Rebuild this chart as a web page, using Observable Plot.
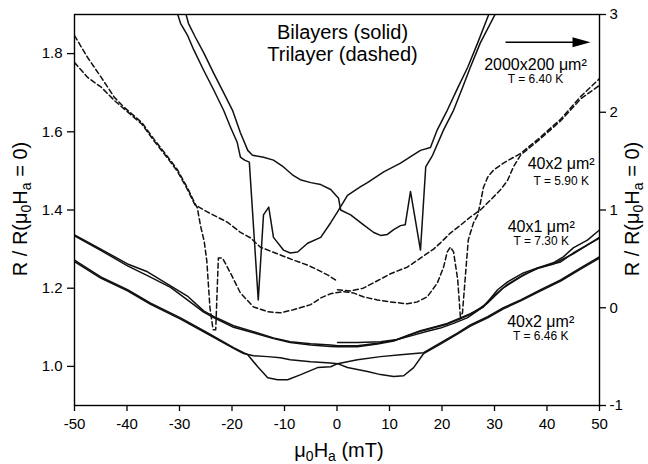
<!DOCTYPE html>
<html><head><meta charset="utf-8">
<script src="https://cdn.jsdelivr.net/npm/d3@7"></script>
<script src="https://cdn.jsdelivr.net/npm/@observablehq/plot@0.6"></script>
<style>body{margin:0;background:#fff}svg{display:block}</style>
</head><body><div id="chart"></div>
<script>
// ---------- axes ----------
const xTicks = [-50, -40, -30, -20, -10, 0, 10, 20, 30, 40, 50];
const leftTicks = [1.0, 1.2, 1.4, 1.6, 1.8];
const rightTicks = [-1, 0, 1, 2, 3];
const leftDomain = [0.9, 1.9];
const rightDomain = [-1, 3];

// ---------- 2000x200 µm² bilayer, T = 6.40 K (right axis) ----------
const big_sweepA = [[-30.6,3.07],[-30.4,3.01],[-29.8,2.91],[-28.5,2.79],[-27.3,2.64],[-25.4,2.43],[-23.5,2.23],[-21.6,2.02],[-20.3,1.85],[-19.0,1.69],[-18.4,1.54],[-17.6,1.51],[-16.7,1.49],[-15.0,0.08],[-14.0,0.95],[-13.0,1.03],[-12.1,0.72],[-10.2,0.59],[-8.9,0.56],[-7.5,0.57],[-5.6,0.66],[-3.1,0.72],[-1.2,0.87],[0.1,0.98],[2.0,1.15],[4.5,1.24],[5.8,1.28],[8.9,1.39],[12.1,1.48],[14.4,1.56],[15.9,1.61],[17.8,1.64],[19.1,1.82],[21.0,2.02],[23.0,2.25],[24.9,2.46],[26.8,2.71],[28.9,3.0],[29.2,3.06]];
const big_sweepB = [[-29.0,3.05],[-28.3,2.91],[-27.0,2.77],[-25.4,2.61],[-23.5,2.40],[-21.6,2.20],[-19.9,2.02],[-18.4,1.79],[-17.0,1.61],[-16.1,1.56],[-14.0,1.54],[-12.1,1.51],[-10.2,1.44],[-8.5,1.36],[-7.0,1.31],[-5.0,1.28],[-3.1,1.26],[-1.2,1.21],[0.3,1.12],[0.7,1.00],[2.6,0.95],[5.0,0.85],[7.0,0.77],[8.3,0.74],[9.6,0.75],[10.8,0.80],[12.1,0.84],[13.0,0.85],[14.0,1.19],[15.9,0.59],[16.9,1.44],[18.2,1.56],[20.3,1.82],[22.2,2.02],[23.9,2.25],[25.4,2.46],[27.3,2.71],[30.2,3.01],[30.6,3.07]];

// ---------- 40x2 µm² trilayer, T = 5.90 K (dashed) ----------
const tri_down = [[-50,1.846],[-47.5,1.79],[-44.9,1.739],[-42.4,1.688],[-40.5,1.662],[-37.2,1.624],[-34.8,1.58],[-32.3,1.537],[-30.4,1.503],[-28.5,1.457],[-27.1,1.418],[-26.6,1.405],[-26.0,1.36],[-25.3,1.32],[-24.8,1.27],[-24.2,1.15],[-23.6,1.094],[-23.1,1.094],[-22.6,1.277],[-21.8,1.277],[-20.3,1.239],[-18.4,1.188],[-15.9,1.152],[-13.2,1.140],[-10.8,1.137],[-8.3,1.145],[-5.0,1.158],[-3.1,1.175],[-1.2,1.186],[1.2,1.191],[3.1,1.188],[5.0,1.178],[7.7,1.170],[10.2,1.165],[13.4,1.160],[15.3,1.165],[17.2,1.178],[19.1,1.213],[20.3,1.254],[21.0,1.293],[21.6,1.305],[22.2,1.293],[23.0,1.221],[23.5,1.127],[23.9,1.137],[24.5,1.239],[25.0,1.323],[25.4,1.341],[26.0,1.367],[26.8,1.387],[27.3,1.417],[27.9,1.458],[28.7,1.484],[29.8,1.502],[31.7,1.520],[35.0,1.545],[38.2,1.58],[42.6,1.632],[46.4,1.69],[50,1.736]];
const tri_virgin = [[0.1,1.196],[2.6,1.193],[5.0,1.200],[7.7,1.219],[10.2,1.237],[13.4,1.254],[15.9,1.277],[18.4,1.300],[19.7,1.316],[21.6,1.341],[23.5,1.361],[25.4,1.382],[27.3,1.400],[29.2,1.425],[31.1,1.451],[32.5,1.476],[33.6,1.510],[35.0,1.541],[38.2,1.576],[42.6,1.628],[46.4,1.684],[50,1.719]];
const tri_up = [[-50,1.777],[-47.5,1.739],[-44.9,1.714],[-42.4,1.680],[-40.5,1.658],[-37.2,1.620],[-34.8,1.576],[-32.3,1.533],[-30.4,1.499],[-28.5,1.453],[-27.1,1.414],[-24.7,1.395],[-20.9,1.369],[-18.4,1.343],[-16.5,1.329],[-14.6,1.305],[-10.8,1.285],[-8.3,1.272],[-5.6,1.259],[-3.7,1.247],[-1.8,1.234],[-0.3,1.221]];

// ---------- 40x1 µm² bilayer, T = 7.30 K ----------
const b40x1_a = [[-50,1.336],[-45,1.300],[-39.9,1.262],[-36.1,1.242],[-31.7,1.206],[-28.5,1.180],[-25.4,1.142],[-23.5,1.128],[-19.7,1.104],[-15.9,1.089],[-12.1,1.073],[-8.9,1.063],[-5.0,1.058],[-1.2,1.055],[0.1,1.053],[3.9,1.053],[7.7,1.059],[10.8,1.066],[13.4,1.079],[15.9,1.091],[18.4,1.100],[21.0,1.110],[23.5,1.124],[25.4,1.135],[27.9,1.152],[30.6,1.196],[32.5,1.216],[35.5,1.239],[38.2,1.252],[41.2,1.265],[43.1,1.280],[45.0,1.303],[47.7,1.323],[50,1.349]];
const b40x1_b = [[-50,1.334],[-45,1.297],[-39.9,1.257],[-36.1,1.232],[-31.7,1.202],[-28.5,1.170],[-25.4,1.139],[-23.5,1.125],[-19.7,1.100],[-15.9,1.086],[-12.1,1.071],[-8.9,1.061],[-5.0,1.055],[-1.2,1.051],[0.1,1.050],[3.9,1.050],[7.7,1.057],[10.8,1.065],[13.4,1.078],[15.9,1.090],[18.4,1.099],[21.0,1.108],[23.5,1.122],[25.4,1.133],[28.7,1.162],[31.7,1.201],[35.0,1.229],[38.2,1.252],[42.6,1.267],[45.0,1.290],[50,1.328]];
const b40x1_c = [[0.1,1.061],[3.9,1.061],[8.3,1.063],[11.5,1.069],[14.6,1.080],[17.2,1.090],[19.7,1.098],[22.2,1.110],[24.8,1.124],[27.3,1.147],[29.8,1.180],[32.5,1.210],[35.5,1.234],[38.2,1.250],[41.2,1.262],[45.0,1.288],[50,1.330]];

// ---------- 40x2 µm² bilayer, T = 6.46 K ----------
const b40x2_a = [[-50,1.272],[-45,1.229],[-39.9,1.196],[-35.5,1.162],[-29.8,1.124],[-24.7,1.086],[-19.7,1.048],[-17.8,1.035],[-17.0,1.030],[-15.1,0.999],[-13.2,0.971],[-11.3,0.966],[-9.4,0.966],[-6.9,0.979],[-3.7,0.997],[-1.2,0.999],[0.1,1.007],[3.9,1.017],[8.3,1.025],[12.1,1.030],[16.5,1.035],[19.7,1.060],[23.0,1.086],[25.4,1.106],[28.7,1.127],[31.7,1.150],[35.0,1.170],[38.8,1.196],[42.6,1.221],[46.4,1.252],[50,1.280]];
const b40x2_b = [[-50,1.268],[-45,1.226],[-39.9,1.193],[-35.5,1.159],[-29.8,1.121],[-24.7,1.083],[-19.7,1.046],[-17.8,1.033],[-15.9,1.027],[-13.2,1.025],[-10.8,1.022],[-8.9,1.017],[-5.0,1.012],[-1.2,1.009],[0.1,1.007],[2.0,0.997],[5.8,0.987],[8.3,0.979],[10.8,0.974],[12.7,0.976],[14.6,0.997],[16.5,1.033],[19.7,1.057],[23.0,1.083],[25.4,1.103],[28.7,1.124],[31.7,1.147],[35.0,1.168],[38.8,1.193],[42.6,1.218],[46.4,1.249],[50,1.277]];

// ---------- annotations (data units) ----------
const sampleNames = ["2000x200 μm²", "40x2 μm²", "40x1 μm²", "40x2 μm²"];
const sampleTemps = ["T = 6.40 K", "T = 5.90 K", "T = 7.30 K", "T = 6.46 K"];
const labelX = [37.8, 42.7, 38.9, 38.8];
const nameY = [1.757, 1.504, 1.344, 1.102];
const tempY = [1.724, 1.463, 1.311, 1.068];
const legendLines = ["Bilayers (solid)", "Trilayer (dashed)"];
const legendY = [1.8385, 1.780];
const arrowSpec = [{x1: 32.1, x2: 46.6, head: 46.57, y: 1.829}];

// ---------- build table ----------
const toLeft = r => leftDomain[0] + (r - rightDomain[0]) * (leftDomain[1] - leftDomain[0]) / (rightDomain[1] - rightDomain[0]);
const fromLeft = v => rightDomain[0] + (v - leftDomain[0]) * (rightDomain[1] - rightDomain[0]) / (leftDomain[1] - leftDomain[0]);
const series = [
  {id: "bigA", pts: big_sweepA, right: true, dashed: false},
  {id: "bigB", pts: big_sweepB, right: true, dashed: false},
  {id: "triDown", pts: tri_down, right: false, dashed: true},
  {id: "triVirgin", pts: tri_virgin, right: false, dashed: true},
  {id: "triUp", pts: tri_up, right: false, dashed: true},
  {id: "x1a", pts: b40x1_a, right: false, dashed: false},
  {id: "x1b", pts: b40x1_b, right: false, dashed: false},
  {id: "x1c", pts: b40x1_c, right: false, dashed: false},
  {id: "x2a", pts: b40x2_a, right: false, dashed: false},
  {id: "x2b", pts: b40x2_b, right: false, dashed: false}
];
const rows = series.flatMap(s => s.pts.map(([x, v]) => ({id: s.id, x, y: s.right ? toLeft(v) : v, dashed: s.dashed})));
const names = sampleNames.map((t, i) => ({t, x: labelX[i], y: nameY[i]}));
const temps = sampleTemps.map((t, i) => ({t, x: labelX[i], y: tempY[i]}));
const legend = legendLines.map((t, i) => ({t, x: 1.05, y: legendY[i]}));

const headSymbol = {draw(ctx) { ctx.moveTo(9, 0); ctx.lineTo(-9, -5); ctx.lineTo(-9, 5); ctx.closePath(); }};

const chart = Plot.plot({
  width: 648, height: 464,
  marginLeft: 74, marginRight: 49, marginTop: 14, marginBottom: 59,
  x: {domain: [-50, 50]},
  y: {domain: leftDomain},
  style: {fontFamily: "'Liberation Sans', Arial, Helvetica, sans-serif", fontSize: "15px", color: "black", background: "white"},
  marks: [
    Plot.line(rows.filter(d => !d.dashed), {x: "x", y: "y", z: "id", stroke: "#111", strokeWidth: 1.5, clip: true}),
    Plot.line(rows.filter(d => d.dashed), {x: "x", y: "y", z: "id", stroke: "#111", strokeWidth: 1.5, strokeDasharray: "5,3", clip: true}),
    Plot.frame({stroke: "black", strokeWidth: 1.4}),
    Plot.axisX(xTicks, {tickSize: 6, tickPadding: 7, tickFormat: d => String(d), label: null, strokeWidth: 1.3}),
    Plot.axisY(leftTicks, {anchor: "left", tickSize: 7, tickPadding: 5, tickFormat: d => d.toFixed(1), label: null, strokeWidth: 1.3}),
    Plot.axisY(rightTicks.map(toLeft), {anchor: "right", tickSize: 6, tickPadding: 4, tickFormat: d => String(Math.round(fromLeft(d))), label: null, strokeWidth: 1.3}),
    Plot.text(legend, {x: "x", y: "y", text: "t", fontSize: 20, textAnchor: "middle", lineAnchor: "bottom"}),
    Plot.text(names, {x: "x", y: "y", text: "t", fontSize: 16, textAnchor: "middle", lineAnchor: "bottom"}),
    Plot.text(temps, {x: "x", y: "y", text: "t", fontSize: 12, textAnchor: "middle", lineAnchor: "bottom"}),
    Plot.link(arrowSpec, {x1: "x1", x2: "x2", y1: "y", y2: "y", stroke: "black", strokeWidth: 1.5}),
    Plot.dot(arrowSpec, {x: "head", y: "y", symbol: headSymbol, fill: "black", stroke: "none", r: 5})
  ]
});
document.getElementById("chart").appendChild(chart);

// axis titles with sub-scripts
const svg = d3.select(chart);
function title(x, y, rot, parts) {
  const t = svg.append("text")
    .attr("transform", `translate(${x},${y})` + (rot ? ` rotate(${rot})` : ""))
    .attr("text-anchor", "middle").attr("font-size", 20).attr("fill", "black");
  let low = false;
  parts.forEach(([s, sub]) => {
    const ts = t.append("tspan").text(s);
    if (sub) { ts.attr("font-size", 14).attr("dy", 4); low = true; }
    else if (low) { ts.attr("dy", -4); low = false; }
  });
}
const yTitle = [["R / R(μ"], ["0", true], ["H"], ["a", true], [" = 0)"]];
title(27, 209, -90, yTitle);
title(639, 209, -90, yTitle);
title(339, 457, 0, [["μ"], ["0", true], ["H"], ["a", true], [" (mT)"]]);
</script></body></html>
